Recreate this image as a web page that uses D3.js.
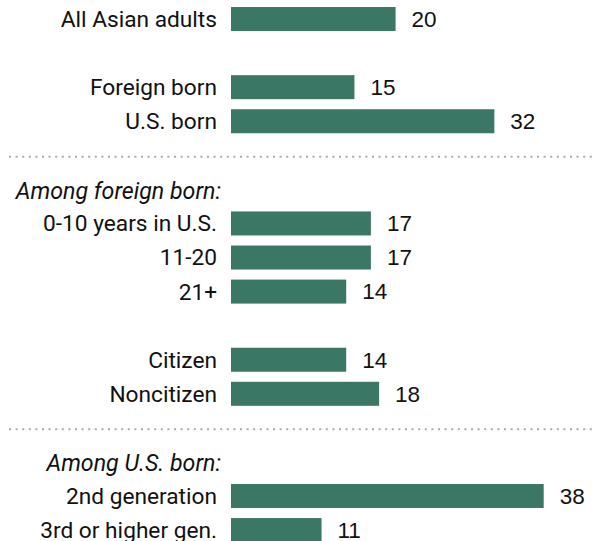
<!DOCTYPE html>
<html>
<head>
<meta charset="utf-8">
<script src="https://cdn.jsdelivr.net/npm/d3@7"></script>
<style>
  html, body { margin: 0; padding: 0; background: #fff; }
  svg { display: block; }
</style>
</head>
<body>
<svg id="chart" width="595" height="541"></svg>
<script>
// Share of each group (%)
const categories = [
  "All Asian adults", "Foreign born", "U.S. born",
  "0-10 years in U.S.", "11-20", "21+",
  "Citizen", "Noncitizen",
  "2nd generation", "3rd or higher gen."
];
const values = [20, 15, 32, 17, 17, 14, 14, 18, 38, 11];
const headers = ["Among foreign born:", "Among U.S. born:"];

// Row sequence: bars, blank gaps, dotted dividers and italic sub-headings
const rows = [
  { type: "bar", i: 0 },
  { type: "gap" },
  { type: "bar", i: 1 },
  { type: "bar", i: 2 },
  { type: "rule" },
  { type: "head", h: 0 },
  { type: "bar", i: 3 },
  { type: "bar", i: 4 },
  { type: "bar", i: 5 },
  { type: "gap" },
  { type: "bar", i: 6 },
  { type: "bar", i: 7 },
  { type: "rule" },
  { type: "head", h: 1 },
  { type: "bar", i: 8 },
  { type: "bar", i: 9 }
];
rows.forEach((r, k) => r.key = "r" + k);

const svg = d3.select("#chart");
const barColor = "#3a7765";
const labelFont = "Roboto, 'Noto Sans', sans-serif";
const numFont = "'Liberation Sans', Arial, sans-serif";

const y = d3.scaleBand()
  .domain(rows.map(r => r.key))
  .range([2, 2 + rows.length * 34.07])
  .paddingInner(0.2955)
  .paddingOuter(0.1478);

const x = d3.scaleLinear().domain([0, 38]).range([231, 543.7]);

const mid = r => y(r.key) + y.bandwidth() / 2;

// dotted dividers
svg.selectAll("line.rule")
  .data(rows.filter(r => r.type === "rule"))
  .join("line")
  .attr("class", "rule")
  .attr("x1", 9).attr("x2", 595)
  .attr("y1", r => mid(r) + 1.5).attr("y2", r => mid(r) + 1.5)
  .attr("stroke", "#aaaaaa")
  .attr("stroke-width", 2)
  .attr("stroke-dasharray", "2,4.6");

// italic sub-headings
svg.selectAll("text.head")
  .data(rows.filter(r => r.type === "head"))
  .join("text")
  .attr("class", "head")
  .attr("x", 221)
  .attr("y", r => mid(r) + 1)
  .attr("dy", "0.35em")
  .attr("text-anchor", "end")
  .attr("font-family", labelFont)
  .attr("font-style", "italic")
  .attr("font-size", 23.2)
  .attr("fill", "#111")
  .text(r => headers[r.h]);

const barRows = rows.filter(r => r.type === "bar");

svg.selectAll("rect.bar")
  .data(barRows)
  .join("rect")
  .attr("class", "bar")
  .attr("x", x(0))
  .attr("y", r => y(r.key))
  .attr("width", r => x(values[r.i]) - x(0))
  .attr("height", y.bandwidth())
  .attr("fill", barColor);

svg.selectAll("text.cat")
  .data(barRows)
  .join("text")
  .attr("class", "cat")
  .attr("x", 217)
  .attr("y", mid)
  .attr("dy", "0.35em")
  .attr("text-anchor", "end")
  .attr("font-family", labelFont)
  .attr("font-size", 22.7)
  .attr("fill", "#111")
  .text(r => categories[r.i]);

svg.selectAll("text.val")
  .data(barRows)
  .join("text")
  .attr("class", "val")
  .attr("x", r => x(values[r.i]) + 16)
  .attr("y", mid)
  .attr("dy", "0.35em")
  .attr("font-family", numFont)
  .attr("font-size", 22.5)
  .attr("fill", "#111")
  .text(r => values[r.i]);
</script>
</body>
</html>
